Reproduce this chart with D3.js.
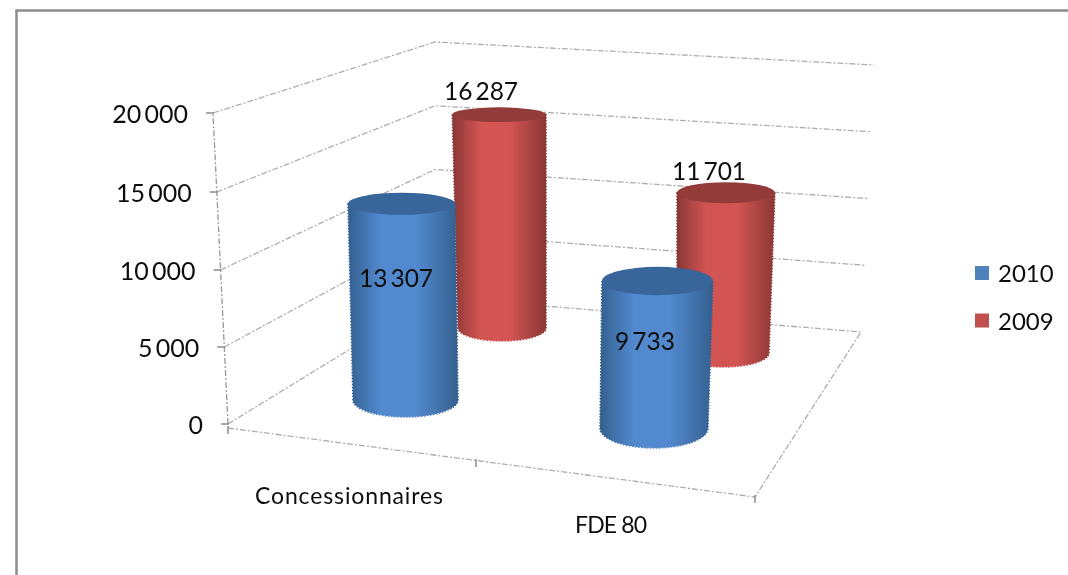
<!DOCTYPE html>
<html><head><meta charset="utf-8">
<script src="https://cdn.jsdelivr.net/npm/d3@7"></script>
<style>html,body{margin:0;background:#fff}svg{display:block}text{font-family:Lato,"Open Sans",sans-serif;fill:#111}</style>
</head><body><svg id="c" width="1068" height="575"></svg>
<script>
const categories = ["Concessionnaires", "FDE 80"];
const seriesNames = ["2010", "2009"];
const values2010 = [13307, 9733];
const values2009 = [16287, 11701];
const axisTicks = [0, 5000, 10000, 15000, 20000];
const axisMax = 20000;

const colours = {"2010":{swatch:"#4F81BD",edge:"#34608F",mid:"#5289CE",top:"#38659A"},
                 "2009":{swatch:"#C0504D",edge:"#8A3735",mid:"#D25453",top:"#923A39"}};
const fmt = v => d3.format(",")(v).replace(/,/g, "\u2009");

// projected box edges
const edge = (b, t) => ({x:d3.scaleLinear().domain([0,axisMax]).range([b[0],t[0]]),
                         y:d3.scaleLinear().domain([0,axisMax]).range([b[1],t[1]])});
const leftEdge  = {x:d3.scaleLinear().domain([0,axisMax]).range([228,213]),
                   y:d3.scaleLinear().domain(axisTicks).range([424,347,270,192,113])};
const backEdge  = edge([435,297],[435,42]);
const rightEdge = edge([861,332],[874,65]);
const frontCorner = [755,497];
const floorLeft = [228,428];
const frontMid = [476,461];

const svg = d3.select("#c");
const defs = svg.append("defs");
defs.append("filter").attr("id","soft").append("feGaussianBlur").attr("stdDeviation",0.45);
seriesNames.forEach(s=>{
  const g = defs.append("linearGradient").attr("id","g"+s);
  [[0,colours[s].edge],[.3,colours[s].mid],[.62,colours[s].mid],[1,colours[s].edge]]
    .forEach(([o,c])=>g.append("stop").attr("offset",o).attr("stop-color",c));
});
svg.append("path").attr("d","M16.5,575V10.5H1068").attr("fill","none").attr("stroke","#8c8c8c").attr("stroke-width",2.5);

const root = svg.append("g").attr("filter","url(#soft)");
const line = d3.line();
const grid = root.append("g").attr("fill","none").attr("stroke","#aeaeae").attr("stroke-width",1.3).attr("stroke-dasharray","6 2 2 2");
grid.selectAll("path.w").data(axisTicks).join("path").attr("class","w")
  .attr("d",v=>line([[leftEdge.x(v),leftEdge.y(v)],[backEdge.x(v),backEdge.y(v)],[rightEdge.x(v),rightEdge.y(v)]]));
grid.append("path").attr("d",line([[leftEdge.x(0),leftEdge.y(0)],[leftEdge.x(axisMax),leftEdge.y(axisMax)]])).attr("stroke","#999");
grid.append("path").attr("d",line([floorLeft,frontCorner,[rightEdge.x(0),rightEdge.y(0)]]));

const axisG = root.append("g").attr("stroke","#8c8c8c").attr("stroke-width",1.5);
axisG.selectAll("line").data(axisTicks).join("line")
  .attr("x1",v=>leftEdge.x(v)-7).attr("x2",v=>leftEdge.x(v)+1)
  .attr("y1",v=>leftEdge.y(v)).attr("y2",v=>leftEdge.y(v));
[floorLeft,frontMid,frontCorner].forEach(p=>axisG.append("line").attr("x1",p[0]).attr("x2",p[0]).attr("y1",p[1]-2).attr("y2",p[1]+6));

root.append("g").selectAll("text").data(axisTicks).join("text")
  .attr("x",v=>leftEdge.x(v)-25).attr("y",v=>leftEdge.y(v)+10).attr("text-anchor","end").attr("font-size",25).text(fmt);

// Each cylinder: where the column stands and how a value projects on it
const place = [
 {s:"2009",i:0,vals:values2009,bx:[458,546],tx:[451,546],by:[328,13],ty:[66,6]},
 {s:"2009",i:1,vals:values2009,bx:[677,769],tx:[677,779],by:[353,14],ty:[79,8]},
 {s:"2010",i:0,vals:values2010,bx:[353,458],tx:[345.5,453.5],by:[400,17],ty:[105,8]},
 {s:"2010",i:1,vals:values2010,bx:[600,708],tx:[604,718],by:[428,20],ty:[126,8]}
];
const cyl = root.append("g").selectAll("g").data(place).join("g");
const scaleOf = (p,k)=>d3.scaleLinear().domain([0,axisMax]).range([p.by[k],p.ty[k]]);
const xScale = (p,side)=>d3.scaleLinear().domain([0,axisMax]).range([p.bx[side],p.tx[side]]);
cyl.each(function(p){
  const v=p.vals[p.i], g=d3.select(this);
  const yb=p.by[0], yt=scaleOf(p,0)(v), ryb=p.by[1], ryt=scaleOf(p,1)(v);
  const xl0=p.bx[0], xr0=p.bx[1], xl1=xScale(p,0)(v), xr1=xScale(p,1)(v);
  g.append("path").attr("fill",`url(#g${p.s})`)
   .attr("stroke",`url(#g${p.s})`).attr("stroke-width",1.6).attr("stroke-dasharray","1.5 1.5")
   .attr("d",`M${xl1},${yt}L${xl0},${yb}A${(xr0-xl0)/2},${ryb} 0 0 0 ${xr0},${yb}L${xr1},${yt}Z`);
  g.append("ellipse").attr("cx",(xl1+xr1)/2).attr("cy",yt).attr("rx",(xr1-xl1)/2).attr("ry",ryt).attr("fill",colours[p.s].top);
});

// data labels
const labelOffsets = {"2009":[[481,100],[709,180]],"2010":[[396,287],[645,350]]};
const labelRows = place.map(p=>({v:p.vals[p.i],at:labelOffsets[p.s][p.i]}));
root.append("g").selectAll("text").data(labelRows).join("text")
  .attr("x",d=>d.at[0]).attr("y",d=>d.at[1]).attr("text-anchor","middle").attr("font-size",24.5)
  .text(d=>fmt(d.v));

root.append("g").selectAll("text").data(categories).join("text")
  .attr("x",(d,i)=>[255,575][i]).attr("y",(d,i)=>[504,533][i])
  .attr("font-size",23).attr("textLength",(d,i)=>[188,72][i]).attr("lengthAdjust","spacing").text(d=>d);

const lg = root.append("g").selectAll("g").data(seriesNames).join("g").attr("transform",(d,i)=>`translate(975,${266+i*47.5})`);
lg.append("rect").attr("width",14).attr("height",14).attr("fill",d=>colours[d].swatch);
lg.append("text").attr("x",23).attr("y",16).attr("font-size",24).text(d=>d);
</script>
</body></html>
